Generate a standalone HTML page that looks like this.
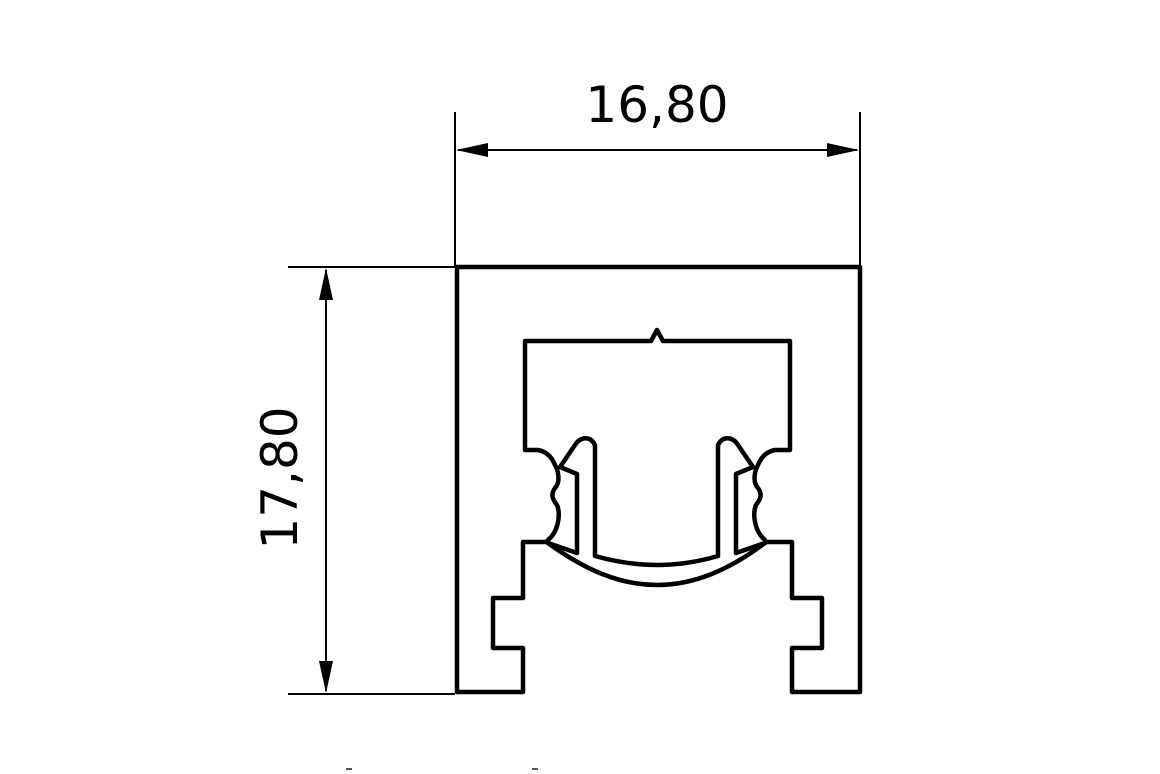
<!DOCTYPE html>
<html><head><style>html,body{margin:0;padding:0;background:#fff;}svg{display:block}</style></head>
<body>
<svg width="1160" height="774" viewBox="0 0 1160 774" xmlns="http://www.w3.org/2000/svg">
<g stroke="#000" fill="none" stroke-width="2">
<line x1="455" y1="112" x2="455" y2="267"/>
<line x1="860" y1="112" x2="860" y2="267"/>
<line x1="458" y1="150" x2="857" y2="150"/>
<line x1="288" y1="267" x2="455" y2="267"/>
<line x1="288" y1="694" x2="455" y2="694"/>
<line x1="326" y1="270" x2="326" y2="691"/>
</g>
<g fill="#000">
<polygon points="456,150 488,143 488,157"/>
<polygon points="859,150 827,143 827,157"/>
<polygon points="326,268 319,300 333,300"/>
<polygon points="326,693 319,661 333,661"/>
</g>
<text x="657" y="122" font-family="'DejaVu Sans','Liberation Sans',sans-serif" font-size="50" text-anchor="middle">16,80</text>
<text transform="translate(297,478) rotate(-90)" font-family="'DejaVu Sans','Liberation Sans',sans-serif" font-size="50" text-anchor="middle">17,80</text>
<g stroke="#000" fill="none" stroke-width="4.5" stroke-linejoin="round" stroke-linecap="round">
<path d="M457,267 H860 V692 H792 V648 H822 V598 H792 V542 H765"/>
<path d="M548,542 H523 V598 H493 V648 H523 V692 H457 V267"/>
<path d="M765,540 C755,532 752,515 756,505 C760,500 763,495 758,488 C752,482 755,470 758,465 C760,460 764,452 775,450 H790 V341 H663 L657,330 L651,341 H525 V450 H538 C549,452 553,460 555,465 C558,470 561,482 555,488 C550,495 553,500 557,505 C561,515 558,532 548,540"/>
<path d="M548,543 C585,570 620,585 657,585 C694,585 729,570 765,543"/>
<path d="M548,543 L577,553 V474 L560,467 L575,445 C580,437 590,435 595,445 V556 C620,563 640,565 657,565 C674,565 694,563 718,556 V445 C723,435 733,437 738,445 L753,467 L736,474 V553 L765,543"/>
</g>
<g fill="#555"><rect x="346" y="768" width="6" height="2"/><rect x="532" y="768" width="6" height="2"/></g>
</svg>
</body></html>
